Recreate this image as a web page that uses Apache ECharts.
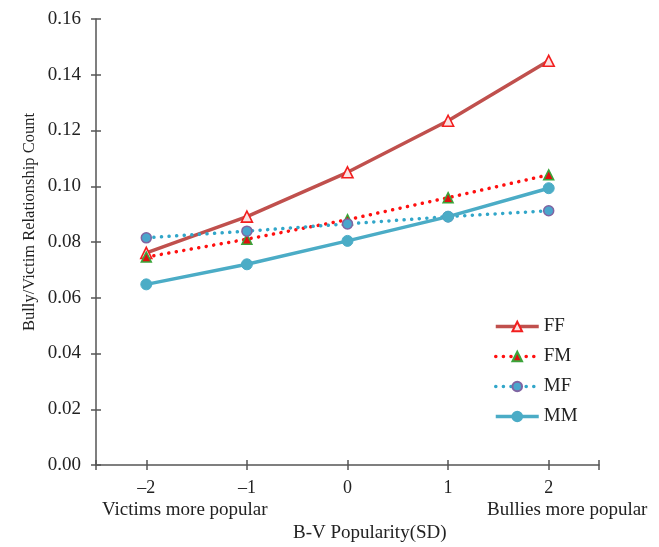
<!DOCTYPE html>
<html>
<head>
<meta charset="utf-8">
<script src="https://cdn.jsdelivr.net/npm/echarts@6/dist/echarts.min.js"></script>
<style>
  html, body { margin: 0; padding: 0; background: #fff; }
  #main { width: 659px; height: 547px; }
</style>
</head>
<body>
<div id="main"></div>
<script>
var xValues = [-2, -1, 0, 1, 2];
var ffData = [0.0761, 0.0891, 0.1050, 0.1235, 0.1450];
var fmData = [0.0746, 0.0810, 0.0880, 0.0959, 0.1041];
var mfData = [0.0815, 0.0839, 0.0865, 0.0891, 0.0912];
var mmData = [0.0648, 0.0720, 0.0804, 0.0891, 0.0993];
var xTickValues = [-2.5, -2, -1, 0, 1, 2, 2.5];

function pairs(arr) {
  return xValues.map(function (x, i) { return [x, arr[i]]; });
}

var serif = 'Liberation Serif';
var axisColor = '#555';
var textColor = '#222';
var chart = echarts.init(document.getElementById('main'));

// second pair of axes only draws the inner half of the crossing ticks
chart.setOption({
  animation: false,
  textStyle: { fontFamily: serif },
  grid: { left: 96, right: 60, top: 19, bottom: 82 },
  legend: {
    orient: 'vertical',
    left: 489,
    top: 312,
    itemWidth: 43,
    itemHeight: 12,
    itemGap: 11,
    lineStyle: { width: 'inherit' },
    textStyle: { fontFamily: serif, fontSize: 19, color: textColor },
    data: ['FF', 'FM', 'MF', 'MM']
  },
  xAxis: [{
    type: 'value',
    min: -2.5,
    max: 2.5,
    splitLine: { show: false },
    axisLine: { onZero: false, lineStyle: { color: axisColor, width: 1.5 } },
    axisTick: {
      customValues: xTickValues,
      length: 5,
      lineStyle: { color: axisColor, width: 1.5 }
    },
    axisLabel: {
      customValues: xValues,
      margin: 14,
      fontSize: 18,
      color: textColor,
      fontFamily: serif,
      formatter: function (v) { return v < 0 ? '\u2013' + Math.abs(v) : String(v); }
    }
  }, {
    type: 'value',
    position: 'bottom',
    min: -2.5,
    max: 2.5,
    splitLine: { show: false },
    axisLine: { show: false, onZero: false },
    axisLabel: { show: false },
    axisTick: {
      customValues: xTickValues,
      inside: true,
      length: 5,
      lineStyle: { color: axisColor, width: 1.5 }
    }
  }],
  yAxis: [{
    type: 'value',
    min: 0,
    max: 0.16,
    interval: 0.02,
    splitLine: { show: false },
    axisLine: { show: true, onZero: false, lineStyle: { color: axisColor, width: 1.5 } },
    axisTick: { show: true, length: 5, lineStyle: { color: axisColor, width: 1.5 } },
    axisLabel: {
      margin: 15,
      fontSize: 19,
      color: textColor,
      fontFamily: serif,
      formatter: function (v) { return v.toFixed(2); }
    }
  }, {
    type: 'value',
    position: 'left',
    min: 0,
    max: 0.16,
    interval: 0.02,
    splitLine: { show: false },
    axisLine: { show: false, onZero: false },
    axisLabel: { show: false },
    axisTick: { show: true, inside: true, length: 5, lineStyle: { color: axisColor, width: 1.5 } }
  }],
  graphic: [
    {
      type: 'text', x: 30, y: 222, rotation: Math.PI / 2,
      style: { text: 'Bully/Victim Relationship Count', font: '16.5px "Liberation Serif"', fill: textColor, align: 'center', verticalAlign: 'middle' }
    },
    { type: 'text', left: 102, top: 501, style: { text: 'Victims more popular', font: '19px "Liberation Serif"', fill: textColor } },
    { type: 'text', left: 487, top: 501, style: { text: 'Bullies more popular', font: '19px "Liberation Serif"', fill: textColor } },
    { type: 'text', left: 293, top: 524, style: { text: 'B-V Popularity(SD)', font: '19px "Liberation Serif"', fill: textColor } }
  ],
  series: [
    {
      name: 'FF',
      type: 'line',
      data: pairs(ffData),
      symbol: 'triangle',
      symbolSize: 11,
      lineStyle: { color: '#c0504d', width: 3.5 },
      itemStyle: { color: '#fbe3e3', borderColor: '#f21f1f', borderWidth: 1.6 }
    },
    {
      name: 'FM',
      type: 'line',
      data: pairs(fmData),
      symbol: 'triangle',
      symbolSize: 10,
      lineStyle: { color: '#ff1010', width: 3.5, type: [0.1, 7.5], cap: 'round' },
      itemStyle: { color: '#e01010', borderColor: '#3aa53a', borderWidth: 1.5 }
    },
    {
      name: 'MF',
      type: 'line',
      data: pairs(mfData),
      symbol: 'circle',
      symbolSize: 10,
      lineStyle: { color: '#31a6c9', width: 3.5, type: [0.1, 7.5], cap: 'round' },
      itemStyle: { color: '#4aa6cc', borderColor: '#8064a2', borderWidth: 1.5 }
    },
    {
      name: 'MM',
      type: 'line',
      data: pairs(mmData),
      symbol: 'circle',
      symbolSize: 11,
      lineStyle: { color: '#4bacc6', width: 3.5 },
      itemStyle: { color: '#4bacc6', borderColor: '#4bacc6', borderWidth: 1 }
    }
  ]
});
</script>
</body>
</html>
